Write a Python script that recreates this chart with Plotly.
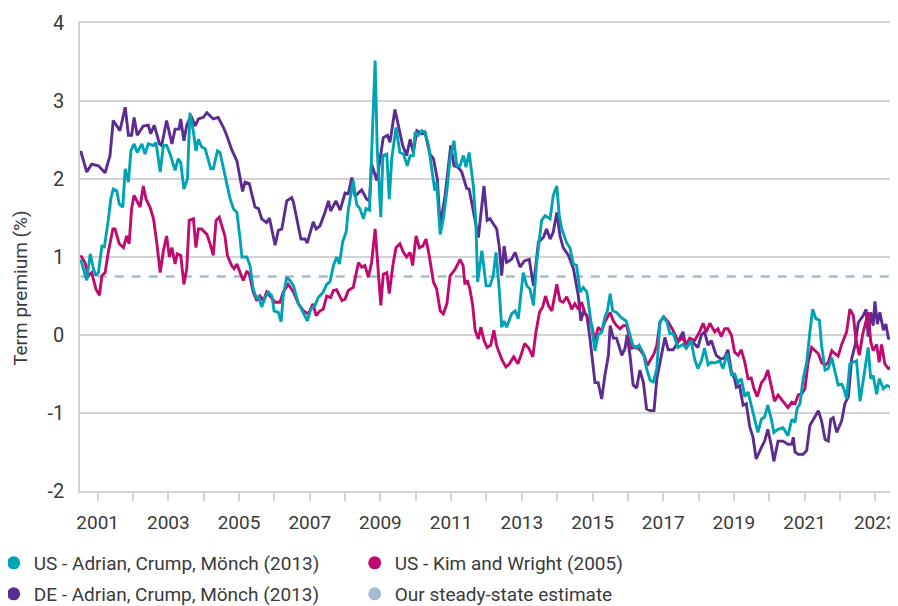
import plotly.graph_objects as go

# ---------------- data (decimal years, term premium in %) ----------------
de_t = [2000.52, 2000.69, 2000.83, 2001.02, 2001.21, 2001.35, 2001.44, 2001.63, 2001.78, 2001.87,
        2001.96, 2002.03, 2002.12, 2002.29, 2002.43, 2002.50, 2002.60, 2002.75, 2002.81, 2002.95,
        2003.10, 2003.19, 2003.30, 2003.35, 2003.44, 2003.52, 2003.64, 2003.76, 2003.85, 2003.99,
        2004.09, 2004.27, 2004.41, 2004.56, 2004.65, 2004.79, 2004.94, 2005.10, 2005.17, 2005.29,
        2005.45, 2005.55, 2005.64, 2005.78, 2005.86, 2006.02, 2006.11, 2006.21, 2006.35, 2006.49,
        2006.54, 2006.75, 2006.87, 2006.93, 2007.10, 2007.18, 2007.29, 2007.43, 2007.53, 2007.59,
        2007.74, 2007.86, 2008.00, 2008.09, 2008.19, 2008.28, 2008.47, 2008.61, 2008.69, 2008.75,
        2008.90, 2009.08, 2009.20, 2009.27, 2009.41, 2009.55, 2009.63, 2009.74, 2009.84, 2009.93,
        2010.03, 2010.17, 2010.26, 2010.40, 2010.50, 2010.61, 2010.69, 2010.83, 2010.99, 2011.08,
        2011.20, 2011.30, 2011.44, 2011.51, 2011.61, 2011.77, 2011.93, 2012.02, 2012.10, 2012.19,
        2012.29, 2012.36, 2012.43, 2012.50, 2012.57, 2012.71, 2012.81, 2012.95, 2013.07, 2013.21,
        2013.33, 2013.47, 2013.61, 2013.70, 2013.80, 2013.89, 2013.99, 2014.08, 2014.17, 2014.32,
        2014.46, 2014.60, 2014.67, 2014.74, 2014.84, 2014.93, 2015.07, 2015.16, 2015.26, 2015.35,
        2015.45, 2015.50, 2015.59, 2015.68, 2015.83, 2015.92, 2015.98, 2016.06, 2016.15, 2016.25,
        2016.34, 2016.44, 2016.53, 2016.63, 2016.74, 2016.82, 2016.96, 2017.05, 2017.14, 2017.28,
        2017.37, 2017.56, 2017.65, 2017.79, 2017.98, 2018.08, 2018.17, 2018.27, 2018.36, 2018.50,
        2018.64, 2018.74, 2018.83, 2018.93, 2019.02, 2019.07, 2019.16, 2019.26, 2019.35, 2019.45,
        2019.54, 2019.63, 2019.78, 2019.87, 2019.96, 2020.06, 2020.13, 2020.25, 2020.39, 2020.53,
        2020.64, 2020.68, 2020.73, 2020.82, 2020.96, 2021.06, 2021.15, 2021.25, 2021.39, 2021.48,
        2021.58, 2021.67, 2021.74, 2021.81, 2021.91, 2022.05, 2022.14, 2022.24, 2022.33, 2022.43,
        2022.52, 2022.66, 2022.74, 2022.80, 2022.87, 2022.94, 2022.99, 2023.06, 2023.13, 2023.23,
        2023.30, 2023.37, 2023.49]
de_v = [2.36, 2.09, 2.19, 2.17, 2.08, 2.30, 2.75, 2.62, 2.92, 2.56,
        2.56, 2.79, 2.56, 2.68, 2.69, 2.58, 2.69, 2.45, 2.43, 2.75,
        2.45, 2.64, 2.64, 2.77, 2.49, 2.69, 2.81, 2.68, 2.77, 2.79,
        2.85, 2.77, 2.79, 2.66, 2.56, 2.38, 2.23, 1.84, 1.96, 1.94,
        1.64, 1.62, 1.49, 1.44, 1.50, 1.15, 1.34, 1.36, 1.72, 1.76,
        1.70, 1.23, 1.23, 1.18, 1.45, 1.36, 1.40, 1.57, 1.72, 1.59,
        1.72, 1.60, 1.82, 1.81, 2.02, 1.78, 1.86, 1.74, 1.72, 2.19,
        1.98, 2.53, 2.56, 2.47, 2.89, 2.58, 2.43, 2.30, 2.51, 2.34,
        2.62, 2.58, 2.60, 2.32, 2.26, 2.00, 1.40, 1.79, 2.43, 2.17,
        2.15, 2.09, 1.88, 1.87, 1.62, 1.25, 1.91, 1.47, 1.49, 1.42,
        1.36, 1.14, 0.76, 1.14, 0.93, 0.97, 1.06, 0.87, 0.95, 0.97,
        0.63, 1.19, 1.25, 1.36, 1.23, 1.32, 1.57, 1.27, 1.12, 1.02,
        0.85, 0.50, 0.18, 0.29, 0.25, -0.05, -0.61, -0.61, -0.82, -0.52,
        -0.26, 0.12, -0.04, -0.04, -0.26, -0.17, 0.00, -0.26, -0.64, -0.68,
        -0.45, -0.61, -0.95, -0.97, -0.97, -0.56, -0.22, -0.03, -0.19, -0.19,
        -0.13, 0.04, -0.17, -0.07, -0.16, 0.00, 0.04, -0.13, -0.07, -0.26,
        -0.31, -0.29, -0.19, -0.47, -0.56, -0.67, -0.65, -0.90, -0.88, -1.18,
        -1.31, -1.59, -1.44, -1.36, -1.21, -1.42, -1.62, -1.36, -1.36, -1.40,
        -1.40, -1.31, -1.50, -1.53, -1.53, -1.48, -1.16, -1.08, -0.97, -1.10,
        -1.34, -1.36, -1.08, -1.06, -1.25, -1.10, -0.88, -0.79, -0.31, -0.13,
        0.16, 0.25, 0.33, -0.02, 0.29, 0.12, 0.43, 0.14, 0.29, 0.06,
        0.14, -0.04, -0.05]

us_t = [2000.52, 2000.60, 2000.69, 2000.79, 2000.88, 2000.95, 2001.02, 2001.12, 2001.19, 2001.30,
        2001.37, 2001.44, 2001.54, 2001.61, 2001.71, 2001.78, 2001.87, 2001.94, 2002.03, 2002.12,
        2002.25, 2002.34, 2002.43, 2002.58, 2002.65, 2002.77, 2002.86, 2002.95, 2003.05, 2003.19,
        2003.28, 2003.35, 2003.44, 2003.54, 2003.61, 2003.71, 2003.78, 2003.85, 2003.94, 2004.04,
        2004.20, 2004.27, 2004.39, 2004.46, 2004.56, 2004.65, 2004.75, 2004.84, 2004.94, 2005.03,
        2005.08, 2005.22, 2005.31, 2005.40, 2005.50, 2005.55, 2005.64, 2005.74, 2005.83, 2005.93,
        2005.99, 2006.11, 2006.19, 2006.25, 2006.35, 2006.44, 2006.54, 2006.68, 2006.77, 2006.93,
        2007.03, 2007.15, 2007.24, 2007.38, 2007.48, 2007.57, 2007.67, 2007.76, 2007.84, 2007.93,
        2008.03, 2008.09, 2008.19, 2008.23, 2008.33, 2008.42, 2008.52, 2008.59, 2008.69, 2008.75,
        2008.85, 2008.91, 2009.01, 2009.07, 2009.18, 2009.25, 2009.32, 2009.44, 2009.55, 2009.65,
        2009.76, 2009.84, 2009.93, 2009.98, 2010.07, 2010.17, 2010.26, 2010.36, 2010.45, 2010.54,
        2010.59, 2010.69, 2010.78, 2010.88, 2010.97, 2011.08, 2011.16, 2011.25, 2011.35, 2011.42,
        2011.51, 2011.63, 2011.70, 2011.75, 2011.87, 2011.99, 2012.10, 2012.19, 2012.27, 2012.36,
        2012.43, 2012.50, 2012.57, 2012.71, 2012.81, 2012.90, 2013.04, 2013.14, 2013.23, 2013.33,
        2013.42, 2013.56, 2013.66, 2013.80, 2013.89, 2013.99, 2014.06, 2014.13, 2014.27, 2014.36,
        2014.46, 2014.55, 2014.65, 2014.74, 2014.84, 2014.93, 2015.01, 2015.07, 2015.16, 2015.26,
        2015.35, 2015.42, 2015.50, 2015.57, 2015.68, 2015.80, 2015.95, 2016.01, 2016.14, 2016.23,
        2016.32, 2016.44, 2016.53, 2016.63, 2016.72, 2016.82, 2016.91, 2017.00, 2017.10, 2017.19,
        2017.28, 2017.42, 2017.56, 2017.65, 2017.79, 2017.89, 2017.98, 2018.08, 2018.17, 2018.27,
        2018.36, 2018.46, 2018.60, 2018.69, 2018.81, 2018.93, 2019.02, 2019.12, 2019.21, 2019.31,
        2019.40, 2019.49, 2019.59, 2019.68, 2019.78, 2019.87, 2019.96, 2020.06, 2020.13, 2020.25,
        2020.39, 2020.53, 2020.64, 2020.73, 2020.79, 2020.87, 2020.96, 2021.06, 2021.15, 2021.23,
        2021.32, 2021.42, 2021.48, 2021.58, 2021.67, 2021.77, 2021.86, 2021.95, 2022.05, 2022.11,
        2022.19, 2022.28, 2022.38, 2022.47, 2022.57, 2022.66, 2022.74, 2022.80, 2022.87, 2022.94,
        2023.04, 2023.11, 2023.23, 2023.32, 2023.42, 2023.51]
us_v = [0.97, 0.85, 0.70, 1.04, 0.85, 0.76, 0.80, 1.14, 1.13, 1.47,
        1.74, 1.87, 1.85, 1.68, 1.64, 2.13, 1.96, 2.36, 2.45, 2.34,
        2.45, 2.32, 2.45, 2.43, 2.47, 2.09, 2.43, 2.43, 2.32, 2.11,
        2.26, 2.21, 1.87, 2.00, 2.85, 2.60, 2.36, 2.51, 2.41, 2.39,
        2.13, 2.13, 2.36, 2.34, 2.13, 1.98, 1.74, 1.62, 1.57, 1.23,
        1.00, 1.00, 0.89, 0.59, 0.46, 0.50, 0.36, 0.48, 0.55, 0.50,
        0.31, 0.29, 0.17, 0.50, 0.74, 0.70, 0.63, 0.40, 0.33, 0.18,
        0.33, 0.38, 0.48, 0.55, 0.65, 0.68, 0.89, 1.00, 0.91, 1.19,
        1.32, 1.60, 1.85, 1.98, 1.67, 1.62, 1.49, 1.62, 1.60, 2.38,
        3.52, 2.38, 1.51, 2.30, 2.32, 1.74, 2.26, 2.66, 2.34, 2.32,
        2.17, 2.30, 2.30, 2.60, 2.56, 2.62, 2.60, 2.43, 2.13, 1.85,
        1.96, 1.29, 1.49, 1.85, 2.26, 2.49, 2.17, 2.17, 2.30, 2.15,
        2.34, 1.91, 1.44, 0.68, 1.08, 0.63, 0.63, 0.76, 1.06, 0.59,
        0.10, 0.18, 0.10, 0.27, 0.31, 0.21, 0.80, 0.63, 0.59, 0.38,
        0.93, 1.47, 1.53, 1.49, 1.79, 1.91, 1.53, 1.36, 1.18, 1.12,
        0.91, 0.89, 0.55, 0.61, 0.55, 0.27, 0.04, -0.20, 0.00, 0.04,
        0.23, 0.31, 0.53, 0.31, 0.29, 0.23, 0.18, 0.08, -0.13, -0.17,
        -0.13, -0.24, -0.43, -0.58, -0.60, -0.43, 0.17, 0.23, 0.17, 0.02,
        0.02, -0.16, -0.12, -0.17, -0.07, -0.31, -0.43, -0.33, -0.17, -0.38,
        -0.35, -0.36, -0.33, -0.43, -0.24, -0.51, -0.50, -0.61, -0.56, -0.79,
        -0.73, -0.90, -1.08, -1.25, -1.08, -1.05, -0.90, -1.08, -1.25, -1.21,
        -1.19, -1.29, -1.08, -1.12, -0.94, -0.88, -0.56, -0.35, 0.04, 0.33,
        0.21, 0.19, -0.13, -0.45, -0.43, -0.29, -0.47, -0.64, -0.63, -0.69,
        -0.82, -0.37, -0.35, -0.33, -0.85, -0.56, -0.31, -0.16, -0.56, -0.52,
        -0.76, -0.56, -0.69, -0.65, -0.66, -0.79]

kw_t = [2000.52, 2000.64, 2000.74, 2000.83, 2000.95, 2001.05, 2001.12, 2001.21, 2001.30, 2001.43,
        2001.49, 2001.61, 2001.73, 2001.82, 2001.89, 2001.96, 2002.03, 2002.12, 2002.20, 2002.29,
        2002.37, 2002.48, 2002.58, 2002.67, 2002.77, 2002.86, 2002.95, 2003.03, 2003.10, 2003.19,
        2003.25, 2003.35, 2003.44, 2003.52, 2003.59, 2003.71, 2003.78, 2003.85, 2003.94, 2004.09,
        2004.18, 2004.27, 2004.35, 2004.44, 2004.54, 2004.60, 2004.67, 2004.79, 2004.86, 2004.94,
        2005.03, 2005.12, 2005.22, 2005.29, 2005.40, 2005.50, 2005.59, 2005.69, 2005.78, 2005.88,
        2006.02, 2006.16, 2006.25, 2006.39, 2006.54, 2006.68, 2006.82, 2006.96, 2007.09, 2007.18,
        2007.29, 2007.38, 2007.48, 2007.59, 2007.67, 2007.76, 2007.91, 2008.00, 2008.09, 2008.23,
        2008.33, 2008.38, 2008.47, 2008.56, 2008.66, 2008.75, 2008.85, 2008.94, 2009.01, 2009.08,
        2009.18, 2009.25, 2009.35, 2009.44, 2009.55, 2009.65, 2009.74, 2009.84, 2009.91, 2010.01,
        2010.10, 2010.20, 2010.29, 2010.38, 2010.50, 2010.59, 2010.69, 2010.78, 2010.88, 2010.97,
        2011.08, 2011.17, 2011.25, 2011.34, 2011.39, 2011.46, 2011.53, 2011.61, 2011.68, 2011.77,
        2011.84, 2011.93, 2012.02, 2012.12, 2012.21, 2012.29, 2012.44, 2012.55, 2012.65, 2012.77,
        2012.89, 2012.99, 2013.08, 2013.20, 2013.31, 2013.40, 2013.50, 2013.59, 2013.67, 2013.76,
        2013.85, 2013.99, 2014.08, 2014.17, 2014.27, 2014.36, 2014.41, 2014.50, 2014.60, 2014.69,
        2014.79, 2014.88, 2014.98, 2015.07, 2015.16, 2015.26, 2015.35, 2015.50, 2015.59, 2015.68,
        2015.78, 2015.87, 2015.97, 2016.11, 2016.23, 2016.34, 2016.46, 2016.55, 2016.65, 2016.74,
        2016.82, 2016.91, 2017.02, 2017.14, 2017.28, 2017.42, 2017.56, 2017.65, 2017.75, 2017.89,
        2018.03, 2018.13, 2018.22, 2018.32, 2018.46, 2018.55, 2018.64, 2018.74, 2018.83, 2018.93,
        2019.02, 2019.12, 2019.21, 2019.31, 2019.40, 2019.49, 2019.57, 2019.66, 2019.78, 2019.87,
        2019.96, 2020.06, 2020.15, 2020.25, 2020.39, 2020.53, 2020.64, 2020.73, 2020.82, 2020.92,
        2021.01, 2021.10, 2021.20, 2021.29, 2021.39, 2021.48, 2021.58, 2021.67, 2021.77, 2021.86,
        2021.95, 2022.05, 2022.19, 2022.28, 2022.38, 2022.45, 2022.55, 2022.64, 2022.74, 2022.80,
        2022.87, 2022.94, 2023.04, 2023.11, 2023.18, 2023.27, 2023.37, 2023.43, 2023.51]
kw_v = [1.02, 0.93, 0.76, 0.80, 0.59, 0.51, 0.76, 0.80, 1.06, 1.36,
        1.36, 1.17, 1.12, 1.27, 1.17, 1.62, 1.79, 1.72, 1.64, 1.91,
        1.74, 1.64, 1.49, 1.19, 0.80, 1.08, 1.27, 1.00, 1.12, 0.91,
        1.04, 1.02, 0.65, 0.85, 1.47, 1.49, 1.12, 1.36, 1.36, 1.29,
        1.17, 1.02, 1.47, 1.51, 1.36, 1.27, 1.02, 0.89, 0.85, 0.91,
        0.80, 0.70, 0.82, 0.78, 0.55, 0.44, 0.50, 0.44, 0.55, 0.50,
        0.42, 0.42, 0.55, 0.65, 0.55, 0.40, 0.31, 0.27, 0.40, 0.25,
        0.31, 0.33, 0.50, 0.48, 0.57, 0.58, 0.44, 0.46, 0.57, 0.61,
        0.85, 0.93, 0.87, 0.89, 0.74, 0.93, 1.36, 0.76, 0.38, 0.78,
        0.80, 0.53, 0.89, 1.12, 1.17, 1.06, 1.00, 1.06, 0.89, 1.27,
        1.12, 1.14, 1.23, 1.02, 0.68, 0.59, 0.31, 0.27, 0.40, 0.76,
        0.82, 0.89, 0.97, 0.89, 0.65, 0.70, 0.59, 0.38, 0.06, -0.05,
        0.10, -0.07, -0.16, -0.13, 0.06, -0.14, -0.32, -0.41, -0.37, -0.28,
        -0.37, -0.24, -0.11, -0.17, -0.28, 0.04, 0.29, 0.36, 0.50, 0.37,
        0.31, 0.65, 0.44, 0.42, 0.49, 0.40, 0.33, 0.40, 0.33, 0.42,
        0.28, 0.21, 0.12, -0.08, 0.10, 0.05, 0.17, 0.29, 0.18, 0.12,
        0.08, 0.12, 0.12, -0.17, -0.15, -0.19, -0.26, -0.39, -0.32, -0.24,
        -0.13, 0.17, 0.23, 0.17, 0.06, -0.08, -0.04, -0.12, -0.04, -0.07,
        0.04, 0.15, 0.04, 0.15, 0.04, 0.08, -0.02, 0.08, 0.08, 0.00,
        -0.22, -0.26, -0.19, -0.35, -0.56, -0.55, -0.69, -0.79, -0.61, -0.56,
        -0.45, -0.64, -0.85, -0.77, -0.85, -0.93, -0.86, -0.88, -0.77, -0.75,
        -0.69, -0.35, -0.16, -0.20, -0.24, -0.35, -0.39, -0.35, -0.20, -0.24,
        -0.27, -0.12, 0.04, 0.33, 0.25, -0.05, -0.26, 0.00, 0.17, 0.29,
        -0.08, -0.20, -0.12, -0.35, -0.12, -0.37, -0.43, -0.42, -0.31]

steady_state = 0.75

series_names = ["US - Adrian, Crump, Mönch (2013)", "US - Kim and Wright (2005)",
                "DE - Adrian, Crump, Mönch (2013)", "Our steady-state estimate"]
y_title = "Term premium (%)"
year_ticks = list(range(2001, 2024))
y_ticks = [4, 3, 2, 1, 0, -1, -2]
y_tick_labels = ["4", "3", "2", "1", "0", "-1", "-2"]

# ---------------- style ----------------
C_US = "#00a3b4"
C_KW = "#bf0a6f"
C_DE = "#5b2d90"
C_SS = "#a5bbcf"
FONT = "Roboto, Liberation Sans, sans-serif"
TXT = "#3a3a3a"
GRID = "#d3d3d3"

t_min = min(de_t + us_t + kw_t)
t_max = max(de_t + us_t + kw_t)

fig = go.Figure()
fig.add_trace(go.Scatter(x=[t_min, t_max], y=[steady_state, steady_state], mode="lines",
                         line=dict(color=C_SS, width=2.6, dash="9px,8px"), showlegend=False,
                         hoverinfo="skip"))
fig.add_trace(go.Scatter(x=de_t, y=de_v, mode="lines", line=dict(color=C_DE, width=2.9),
                         showlegend=False, name=series_names[2]))
fig.add_trace(go.Scatter(x=kw_t, y=kw_v, mode="lines", line=dict(color=C_KW, width=2.9),
                         showlegend=False, name=series_names[1]))
fig.add_trace(go.Scatter(x=us_t, y=us_v, mode="lines", line=dict(color=C_US, width=2.9),
                         showlegend=False, name=series_names[0]))

# legend entries (circle markers): row 1 in "legend", row 2 in "legend2"
for name, col, lg in zip(series_names, [C_US, C_KW, C_DE, C_SS],
                         ["legend", "legend", "legend2", "legend2"]):
    fig.add_trace(go.Scatter(x=[None], y=[None], mode="markers", name=name, legend=lg,
                             marker=dict(symbol="circle", size=13, color=col)))

leg_common = dict(orientation="h", x=-0.106, xanchor="left", yanchor="middle",
                  entrywidth=316, entrywidthmode="pixels", font=dict(size=19, color=TXT),
                  itemsizing="trace", bgcolor="rgba(0,0,0,0)")

# the page body adds an 8px offset, so the figure is 8px smaller than the window
fig.update_layout(
    width=890, height=598,
    margin=dict(l=72, r=4, t=15, b=115, autoexpand=False),
    paper_bgcolor="white", plot_bgcolor="white",
    font=dict(family=FONT, size=20, color=TXT),
    showlegend=True,
    legend=dict(y=-0.1538, **leg_common),
    legend2=dict(y=-0.2201, **leg_common),
    xaxis=dict(range=[2000.5, 2023.53], tickmode="array", tickvals=year_ticks,
               ticktext=[str(y) if y % 2 == 1 else "" for y in year_ticks],
               ticks="outside", ticklen=8, tickcolor=GRID, tickwidth=1.5,
               ticklabelstandoff=5,
               showgrid=False, zeroline=False, showline=True, linecolor=GRID, linewidth=1.5,
               mirror=True, automargin=False, tickfont=dict(size=19, color=TXT)),
    yaxis=dict(range=[-2, 4], tickmode="array", tickvals=y_ticks, ticktext=y_tick_labels,
               showgrid=True, gridcolor=GRID, gridwidth=1.5, zeroline=False,
               showline=True, linecolor=GRID, linewidth=1.5, mirror=True, ticks="",
               ticklabelstandoff=10, automargin=False,
               tickfont=dict(size=20, color=TXT)),
    annotations=[dict(text=y_title, textangle=-90, xref="paper", yref="paper",
                      x=-0.0725, y=0.434, xanchor="center", yanchor="middle",
                      showarrow=False, font=dict(size=19, color=TXT))],
)

fig.write_html("out.html")
